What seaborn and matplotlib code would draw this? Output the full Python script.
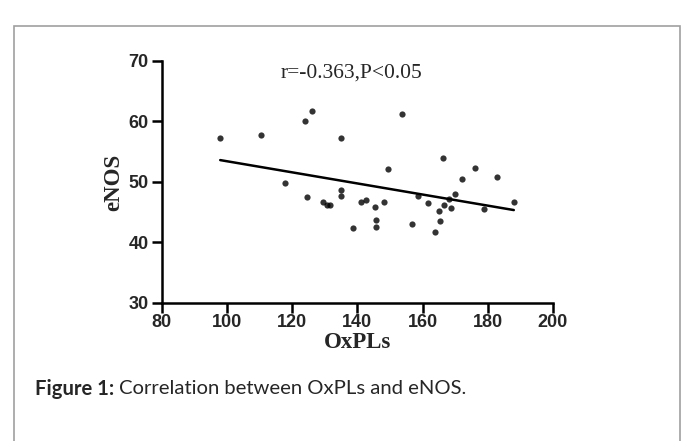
import matplotlib
matplotlib.use("Agg")
import matplotlib.pyplot as plt
import pandas as pd
import seaborn as sns
from matplotlib.patches import Rectangle

# values
oxpls = [97.9, 110.4, 117.8, 124.0, 126.0, 124.5, 129.4, 130.8, 131.5, 134.9,
         134.9, 135.0, 153.7, 149.3, 166.4, 176.1, 172.2, 182.9, 138.6, 141.2,
         142.7, 145.4, 145.6, 145.7, 148.2, 156.8, 158.5, 161.75, 164.9, 165.5,
         163.9, 166.7, 168.0, 168.6, 170.0, 178.8, 188.0]
enos = [57.3, 57.8, 49.8, 60.1, 61.75, 47.55, 46.7, 46.2, 46.2, 48.7,
        47.6, 57.3, 61.25, 52.1, 54.0, 52.3, 50.5, 50.8, 42.4, 46.7,
        47.0, 45.9, 43.7, 42.5, 46.7, 43.05, 47.75, 46.5, 45.15, 43.5,
        41.8, 46.15, 47.1, 45.7, 48.05, 45.5, 46.7]
x_ticks = [80, 100, 120, 140, 160, 180, 200]
y_ticks = [30, 40, 50, 60, 70]
stat_label = "r=-0.363,P<0.05"

df = pd.DataFrame({"OxPLs": oxpls, "eNOS": enos})

sns.set_style("ticks")
plt.rcParams["font.family"] = ["Liberation Sans", "DejaVu Sans"]

fig = plt.figure(figsize=(6.86, 4.41), dpi=100)
ax = fig.add_axes([0.236, 0.313, 0.570, 0.549])

sns.regplot(data=df, x="OxPLs", y="eNOS", ci=None, ax=ax,
            scatter_kws={"s": 20, "color": "black", "linewidths": 0},
            line_kws={"color": "black", "lw": 1.8})

ax.set_xlim(80, 200)
ax.set_ylim(30, 70)
ax.set_xticks(x_ticks)
ax.set_yticks(y_ticks)
for lab in ax.get_xticklabels() + ax.get_yticklabels():
    lab.set_fontweight("bold")
    lab.set_fontsize(13)
ax.tick_params(width=1.8, length=7, color="black")
ax.tick_params(axis="y", pad=2.5)
ax.tick_params(axis="x", pad=1)
for side in ["left", "bottom"]:
    ax.spines[side].set_linewidth(1.8)
    ax.spines[side].set_color("black")
sns.despine(ax=ax)

ax.set_xlabel("OxPLs", fontfamily="Liberation Serif", fontweight="bold", fontsize=16.5, labelpad=1)
ax.set_ylabel("eNOS", fontfamily="Liberation Serif", fontweight="bold", fontsize=16.5, labelpad=3)
ax.text(0.486, 0.95, stat_label, transform=ax.transAxes, ha="center", va="center",
        fontfamily="Liberation Serif", fontsize=15.5)

# caption + frame of the figure box
fig.patches.append(Rectangle((14 / 686, -0.05), 666 / 686, 1.02 - 13 / 441,
                             transform=fig.transFigure, fill=False,
                             edgecolor="#a0a0a0", lw=1.2))
cap = fig.text(35 / 686, 1 - 389 / 441, "Figure 1:", fontfamily="Lato",
               fontweight="bold", fontsize=14.6, va="center")
fig.canvas.draw()
bb = cap.get_window_extent()
fig.text((bb.x1 + 5) / 686, 1 - 389 / 441, "Correlation between OxPLs and eNOS.",
         fontfamily="Lato", fontsize=14.6, va="center")

fig.savefig("out.png", dpi=100)
